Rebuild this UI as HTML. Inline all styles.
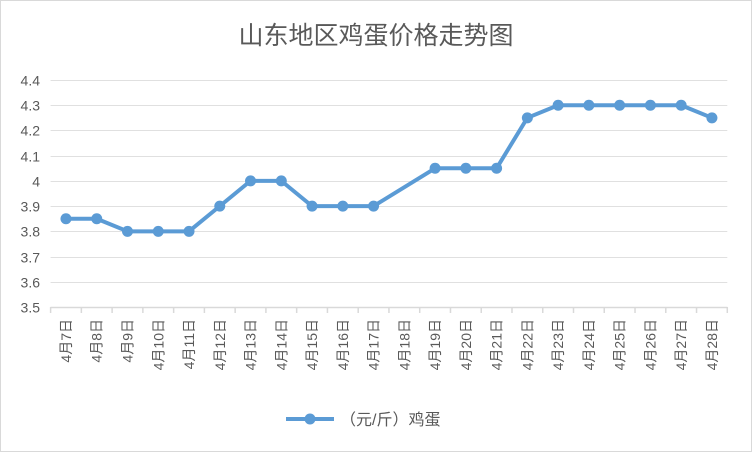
<!DOCTYPE html>
<html><head><meta charset="utf-8"><style>
body{margin:0;background:#fff}
svg{display:block;font-family:"Liberation Sans","Noto Sans CJK SC",sans-serif}
</style></head><body>
<svg id="c" width="752" height="452" viewBox="0 0 752 452">
<rect x="0.5" y="0.5" width="751" height="451" fill="#fff" stroke="#d9d9d9"/>
<text x="376" y="44" text-anchor="middle" font-size="25" fill="#595959" font-family="Liberation Sans,Noto Sans CJK SC,sans-serif">山东地区鸡蛋价格走势图</text>
<g id="grid"></g><g id="xl"></g><g id="series"></g>
<g>
<line x1="286" y1="419" x2="334" y2="419" stroke="#5b9bd5" stroke-width="4"/>
<circle cx="310" cy="419" r="5.5" fill="#5b9bd5"/>
<text x="340" y="425" font-size="16" fill="#595959">（元/斤）鸡蛋</text>
</g>
</svg>
<script>
const categories=["4月7日","4月8日","4月9日","4月10日","4月11日","4月12日","4月13日","4月14日","4月15日","4月16日","4月17日","4月18日","4月19日","4月20日","4月21日","4月22日","4月23日","4月24日","4月25日","4月26日","4月27日","4月28日"];
const values=[3.85,3.85,3.8,3.8,3.8,3.9,4.0,4.0,3.9,3.9,3.9,null,4.05,4.05,4.05,4.25,4.3,4.3,4.3,4.3,4.3,4.25];
const yTicks=[3.5,3.6,3.7,3.8,3.9,4,4.1,4.2,4.3,4.4];
const NS="http://www.w3.org/2000/svg";
const L=50.6,R=727.3,T=80,B=307,ymin=3.5,ymax=4.4;
const bw=(R-L)/categories.length;
const xs=i=>L+bw*(i+0.5);
const ys=v=>B-(v-ymin)/(ymax-ymin)*(B-T);
function mk(t,a,p){const e=document.createElementNS(NS,t);for(const k in a)e.setAttribute(k,a[k]);p.appendChild(e);return e;}
const g=document.getElementById('grid');
yTicks.forEach(v=>{
 const y=Math.round(ys(v))+0.5;
 const ln=mk('line',{x1:L,x2:R,y1:y,y2:y,stroke:v===ymin?'#d9d9d9':'#e0e0e0','stroke-width':v===ymin?1.5:1},g);
 
 
 const t=mk('text',{x:40,y:y+5,'text-anchor':'end','font-size':14,fill:'#595959'},g);
 t.textContent=String(v);
 
 
});
const xl=document.getElementById('xl');
for(let i=0;i<=categories.length;i++){
 const x=L+bw*i;
 const tk=mk('line',{x1:x,x2:x,y1:B,y2:B+6,stroke:'#d9d9d9','stroke-width':1.5},xl);
 
 
}
categories.forEach((c,i)=>{
 const x=xs(i)+5,y=319;
 const t=mk('text',{x:x,y:y,'text-anchor':'end','font-size':14,fill:'#595959',transform:`rotate(-90 ${x} ${y})`},xl);
 t.textContent=c;
 
 
});
const s=document.getElementById('series');
const pts=values.map((v,i)=>v==null?null:[xs(i),ys(v)]).filter(p=>p);
const pl=mk('polyline',{points:pts.map(p=>p.join(',')).join(' '),fill:'none',stroke:'#5b9bd5','stroke-width':4,'stroke-linejoin':'round','stroke-linecap':'round'},s);


pts.forEach(p=>{
 const c=mk('circle',{cx:p[0],cy:p[1],r:5.5,fill:'#5b9bd5'},s);
 
 
});
</script>
</body></html>
